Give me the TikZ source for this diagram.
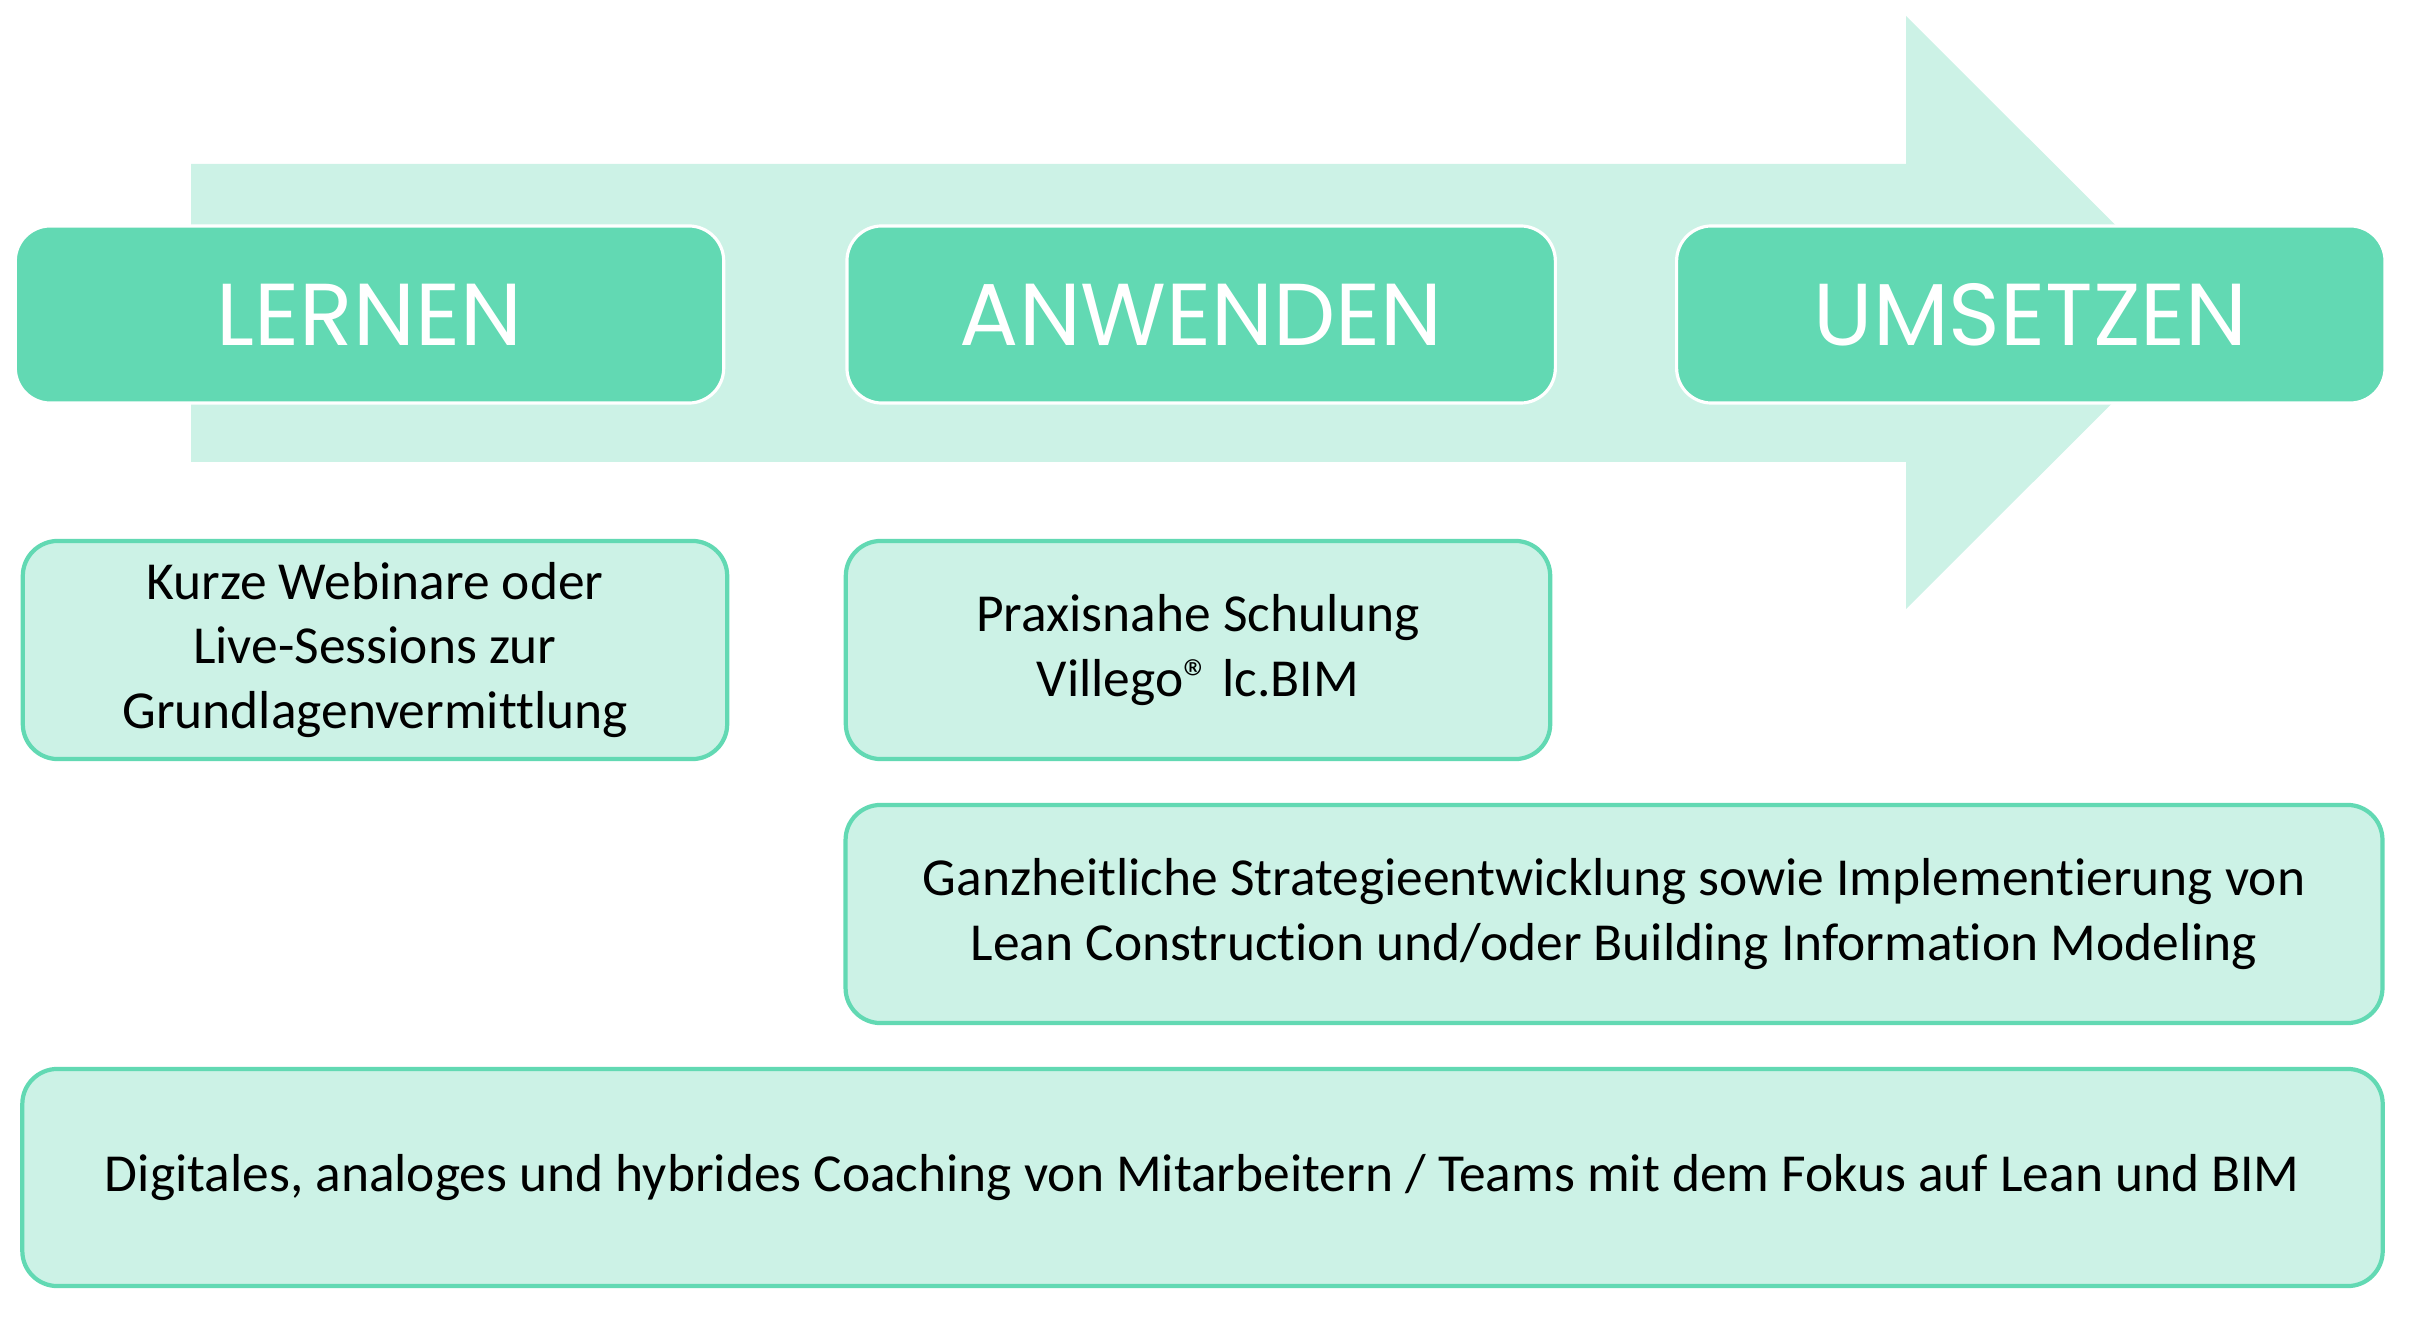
\documentclass[tikz,border=0pt]{standalone}
\usepackage{fontspec}
\setmainfont{Carlito}[Ligatures=NoCommon]
\newfontfamily\headfont{Poppins}
\usetikzlibrary{positioning}
\definecolor{mainGreen}{RGB}{98,217,179}
\definecolor{lightGreen}{RGB}{204,242,230}

\begin{document}
\begin{tikzpicture}[x=0.01cm, y=-0.01cm,
    phase/.style={fill=mainGreen, draw=white, line width=0.9pt, rounded corners=0.35cm,
        minimum width=7.08cm, minimum height=1.77cm, text=white,
        font=\headfont\fontsize{25}{30}\selectfont},
    item/.style={fill=lightGreen, draw=mainGreen, line width=1.2pt, rounded corners=0.35cm,
        align=center, inner sep=0pt, font=\fontsize{15.2}{18.4}\selectfont}]
    \useasboundingbox (0,0) rectangle (2416,1322);

    % background arrow
    \fill[lightGreen] (191,164) -- (1906,164) -- (1906,16) -- (2203,312.5)
        -- (1906,609) -- (1906,462) -- (191,462) -- cycle;

    % phases
    \node[phase] (lernen) at (369.5,314.5) {LERNEN};
    \node[phase, right=1.2cm of lernen] (anwenden) {ANWENDEN};
    \node[phase, right=1.18cm of anwenden] (umsetzen) {UMSETZEN};

    % offers
    \node[item, minimum width=7.04cm, minimum height=2.18cm] (webinar) at (375,650)
        {Kurze Webinare oder\\Live-Sessions zur\\Grundlagenvermittlung};
    \node[item, minimum width=7.04cm, minimum height=2.18cm] (schulung) at (1198,650)
        {Praxisnahe Schulung\\Villego® lc.BIM};
    \node[item, minimum width=15.36cm, minimum height=2.18cm] (strategie) at (1614,914)
        {Ganzheitliche Strategieentwicklung sowie Implementierung von\\Lean Construction und/oder Building Information Modeling};
    \node[item, minimum width=23.59cm, minimum height=2.17cm] (coaching) at (1202.5,1177.5)
        {Digitales, analoges und hybrides Coaching von Mitarbeitern / Teams mit dem Fokus auf Lean und BIM};
\end{tikzpicture}
\end{document}
